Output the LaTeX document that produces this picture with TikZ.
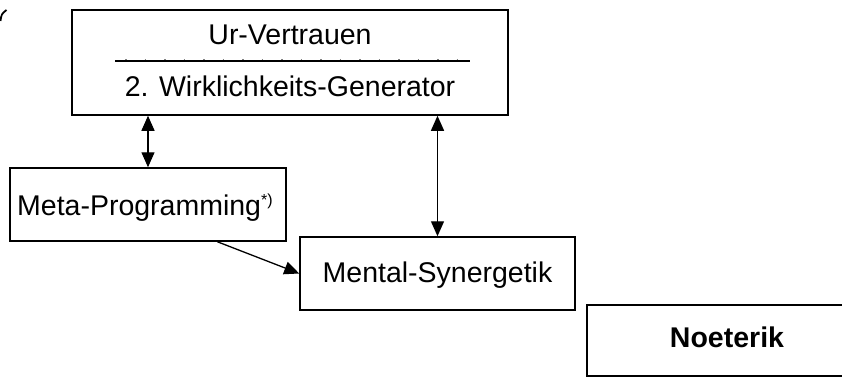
\documentclass[tikz,border=0pt]{standalone}
\usepackage{fontspec}
\setmainfont{Liberation Sans}
\usetikzlibrary{arrows.meta,calc}
\begin{document}
\begin{tikzpicture}[x=1pt,y=-1pt,
  box/.style={draw=black,line width=1.5pt,inner sep=0pt,fill=white},
  lbl/.style={inner sep=0pt,font=\fontsize{28.5}{34}\selectfont},
  conn/.style={line width=1.3pt,-{Triangle[length=15pt,width=13pt]}},
  dconn/.style={line width=1.3pt,{Triangle[length=15pt,width=13pt]}-{Triangle[length=15pt,width=13pt]}}]
\useasboundingbox (0,0) rectangle (842,377);
% top-left arc fragment
\draw[line width=1.8pt] (0.5,21) .. controls (1.5,14) .. (6.5,10);
% top box
\node[box,minimum width=436pt,minimum height=105pt] (top) at (290,62.5) {};
\node[lbl,anchor=base] (ur) at (290,45) {Ur-Vertrauen};
\node[lbl,anchor=base] (gen) at (290,97) {2. Wirklichkeits-Generator};
\coordinate (sepL) at (115,61);
\coordinate (sepR) at (470,61);
\draw[line width=1.1pt] (sepL) -- (sepR);
\draw[line width=1pt,gray,dash pattern=on 1.5pt off 18pt] ([xshift=10pt,yshift=1pt]sepL) -- ([yshift=1pt]sepR);
% meta box
\node[box,minimum width=276pt,minimum height=73pt] (meta) at (148,204.5) {};
\node[lbl,anchor=base west] (metat) at (17,215) {Meta-Programming\textsuperscript{\fontsize{16}{18}\selectfont *)}};
% mental box
\node[box,minimum width=275pt,minimum height=73pt] (mental) at (437.5,273.5) {};
\node[lbl,anchor=base] (mentalt) at (437.5,282) {Mental-Synergetik};
% noeterik box (runs off the right edge)
\node[box,minimum width=280pt,minimum height=71pt] (noe) at (727,340.5) {};
\node[lbl,anchor=base,font=\fontsize{28.5}{34}\selectfont\bfseries] (noet) at (727,347) {Noeterik};
% connectors
\draw[dconn] (meta.north) -- (meta.north |- top.south);
\draw[dconn] (mental.north) -- (mental.north |- top.south);
\draw[conn] ($(meta.south east)!0.25!(meta.south west)$) -- (mental.west);
\end{tikzpicture}
\end{document}
